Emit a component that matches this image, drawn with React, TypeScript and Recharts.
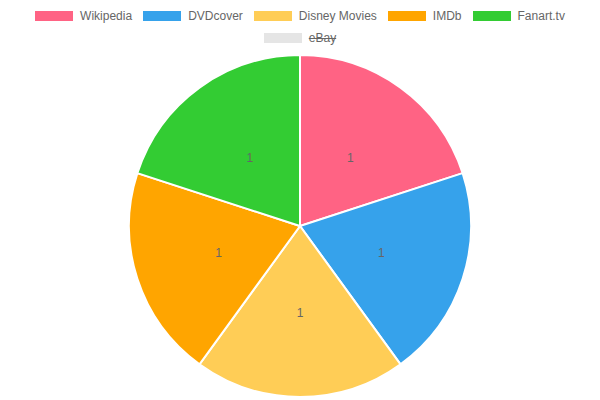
import { PieChart, Pie, Cell } from 'recharts';

const sources = ['Wikipedia', 'DVDcover', 'Disney Movies', 'IMDb', 'Fanart.tv', 'eBay'];
const counts = [1, 1, 1, 1, 1, 1];
const hidden = [false, false, false, false, false, true];
const colors = ['#FF6384', '#36A2EB', '#FFCD56', '#FFA500', '#33CC33', '#E5E5E5'];

const legendRows = [[0, 1, 2, 3, 4], [5]];

const RADIAN = Math.PI / 180;

const renderLabel = ({ cx, cy, midAngle, outerRadius, value }: any) => {
  const r = outerRadius / 2;
  const x = cx + r * Math.cos(-midAngle * RADIAN);
  const y = cy + r * Math.sin(-midAngle * RADIAN);
  return (
    <text
      x={x}
      y={y + 1}
      fill="#666"
      fontSize={12}
      fontFamily="Liberation Sans, Arial, sans-serif"
      textAnchor="middle"
      dominantBaseline="central"
    >
      {value}
    </text>
  );
};

const LegendItem = ({ i }: { i: number }) => (
  <div style={{ display: 'flex', alignItems: 'center', margin: '0 5.5px' }}>
    <div style={{ width: 38, height: 10, background: colors[i], marginRight: 7 }} />
    <span style={{ textDecoration: hidden[i] ? 'line-through' : 'none' }}>{sources[i]}</span>
  </div>
);

const App = () => {
  const data = sources
    .map((name, i) => ({ name, value: counts[i], color: colors[i] }))
    .filter((_, i) => !hidden[i]);

  return (
    <div style={{ position: 'absolute', left: 0, top: 0, width: 600, height: 400, background: '#fff' }}>
      <div
        style={{
          position: 'absolute',
          left: 0,
          top: 0,
          width: 600,
          fontFamily: 'Liberation Sans, Arial, sans-serif',
          fontSize: 12,
          color: '#666',
        }}
      >
        {legendRows.map((row, ri) => (
          <div
            key={ri}
            style={{
              position: 'absolute',
              top: ri === 0 ? 8 : 30,
              left: 0,
              width: 600,
              height: 16,
              display: 'flex',
              justifyContent: 'center',
              alignItems: 'center',
            }}
          >
            {row.map((i) => (
              <LegendItem key={i} i={i} />
            ))}
          </div>
        ))}
      </div>
      <PieChart
        width={600}
        height={400}
        margin={{ top: 0, right: 0, bottom: 0, left: 0 }}
        style={{ position: 'absolute', left: 0, top: 0 }}
      >
        <Pie
          data={data}
          dataKey="value"
          nameKey="name"
          cx={300}
          cy={226}
          outerRadius={171}
          startAngle={90}
          endAngle={-270}
          stroke="#fff"
          strokeWidth={2}
          label={renderLabel}
          labelLine={false}
          isAnimationActive={false}
        >
          {data.map((d) => (
            <Cell key={d.name} fill={d.color} />
          ))}
        </Pie>
      </PieChart>
    </div>
  );
};

export default App;
